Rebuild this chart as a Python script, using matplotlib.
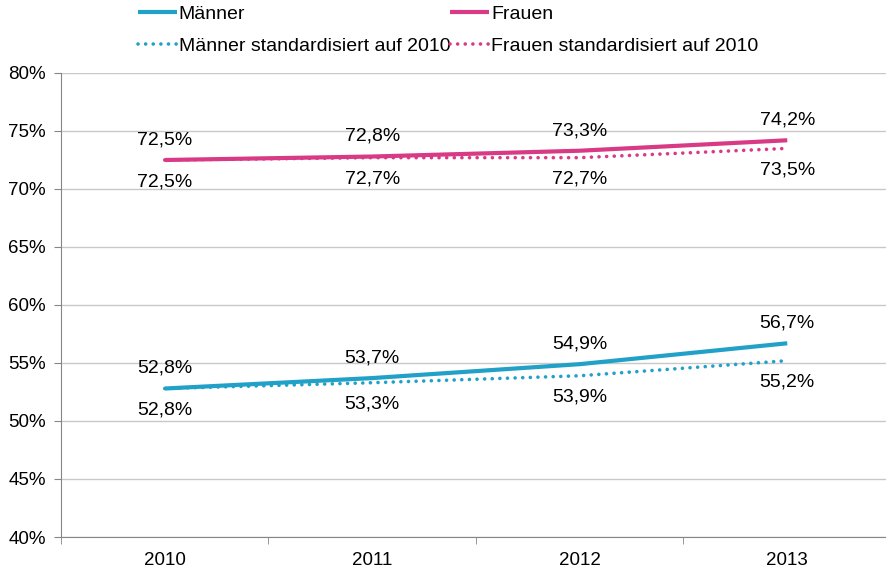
import matplotlib
matplotlib.use('Agg')
from matplotlib import pyplot as plt
from matplotlib.ticker import FixedLocator

plt.rcParams['font.family'] = ['Liberation Sans', 'DejaVu Sans']

years = ['2010', '2011', '2012', '2013']
maenner = [52.8, 53.7, 54.9, 56.7]
maenner_std = [52.8, 53.3, 53.9, 55.2]
frauen = [72.5, 72.8, 73.3, 74.2]
frauen_std = [72.5, 72.7, 72.7, 73.5]
yticks = [40, 45, 50, 55, 60, 65, 70, 75, 80]

blue = '#21A0C8'
pink = '#D83A85'
dots = (0, (0.01, 2.1))


def fmt(v):
    return ('%.1f' % v).replace('.', ',') + '%'


def plotter():
    fig = plt.figure(figsize=(8.87, 5.73), dpi=100)
    ax = fig.add_axes([61 / 887, 1 - 537 / 573, 830 / 887, 464 / 573])
    x = list(range(len(years)))

    l1, = ax.plot(x, maenner, '-', color=blue, lw=3, solid_capstyle='butt', zorder=3)
    l2, = ax.plot(x, maenner_std, linestyle=dots, dash_capstyle='round', color=blue, lw=2.6, zorder=2)
    l3, = ax.plot(x, frauen, '-', color=pink, lw=3, solid_capstyle='butt', zorder=3)
    l4, = ax.plot(x, frauen_std, linestyle=dots, dash_capstyle='round', color=pink, lw=2.6, zorder=2)

    for i in x:
        for top, bottom in ((maenner, maenner_std), (frauen, frauen_std)):
            ax.annotate(fmt(top[i]), (i, top[i]), xytext=(0, 14.5), textcoords='offset points',
                        ha='center', va='center', fontsize=14)
            ax.annotate(fmt(bottom[i]), (i, bottom[i]), xytext=(0, -15.5), textcoords='offset points',
                        ha='center', va='center', fontsize=14)

    ax.set_xlim(-0.5, len(years) - 0.5)
    ax.set_ylim(40, 80)
    ax.set_yticks(yticks)
    ax.set_yticklabels(['%d%%' % t for t in yticks], fontsize=13.5)
    ax.set_xticks(x)
    ax.set_xticklabels(years, fontsize=13.5)
    ax.xaxis.set_minor_locator(FixedLocator([i - 0.5 for i in range(len(years) + 1)]))
    ax.tick_params(axis='x', which='major', length=0, pad=11)
    ax.tick_params(axis='x', which='minor', length=5, color='#868686')
    ax.tick_params(axis='y', length=5, color='#868686', pad=6)
    ax.grid(axis='y', color='#C8C8C8', lw=1)
    ax.set_axisbelow(True)
    for s in ('top', 'right'):
        ax.spines[s].set_visible(False)
    for s in ('left', 'bottom'):
        ax.spines[s].set_color('#868686')

    fig.legend([l1, l2, l3, l4],
               ['Männer', 'Männer standardisiert auf 2010', 'Frauen', 'Frauen standardisiert auf 2010'],
               ncol=2, loc='upper left', bbox_to_anchor=(138 / 887, 1 - 5 / 573), frameon=False,
               fontsize=14, handlelength=2.0, handletextpad=0.1, columnspacing=0.0,
               labelspacing=0.75, borderaxespad=0, borderpad=0)

    fig.savefig('out.png', dpi=100)


if __name__ == '__main__':
    plotter()
